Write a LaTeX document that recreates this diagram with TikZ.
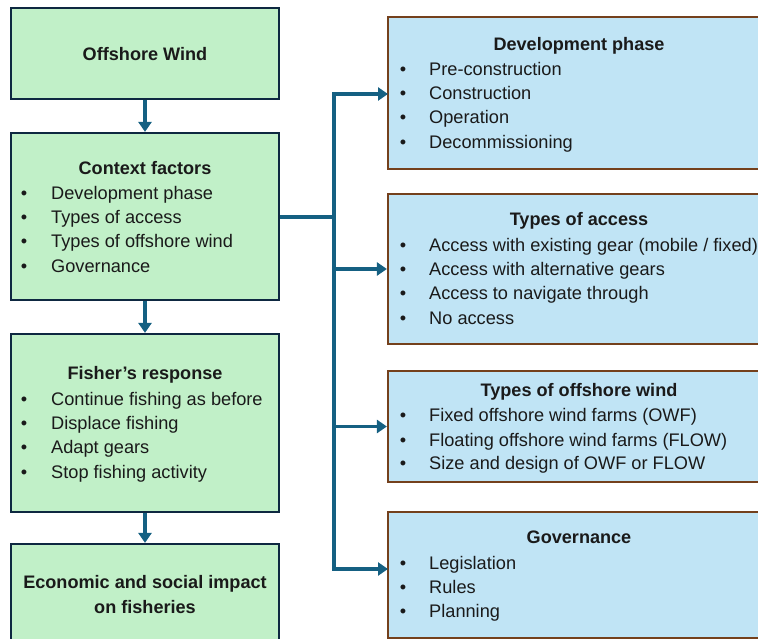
\documentclass[tikz,border=0pt]{standalone}
\usepackage{fontspec}
\setmainfont{Liberation Sans}
\usetikzlibrary{arrows.meta}
\definecolor{gfill}{HTML}{C1F0C8}
\definecolor{gdraw}{HTML}{0E2841}
\definecolor{bfill}{HTML}{C0E4F5}
\definecolor{bdraw}{HTML}{74401C}
\definecolor{conncol}{HTML}{156082}
\definecolor{txt}{HTML}{1A1A1A}
\tikzset{
  gbox/.style={draw=gdraw, fill=gfill, line width=2.2pt, minimum width=268pt, inner sep=0pt, anchor=center},
  bbox/.style={draw=bdraw, fill=bfill, line width=2.2pt, minimum width=382pt, inner sep=0pt, anchor=center},
  ttl/.style={font=\fontsize{18.1}{21}\selectfont\bfseries, text=txt, inner sep=0pt, anchor=base, yshift=-6.4pt},
  itm/.style={font=\fontsize{18.2}{21}\selectfont, text=txt, inner sep=0pt, anchor=base west, yshift=-6.4pt},
  bul/.style={font=\fontsize{18.2}{21}\selectfont, text=txt, inner sep=0pt, anchor=base, yshift=-6.4pt},
  conn/.style={draw=conncol, line width=3.2pt},
  arr/.style={conn, -{Triangle[width=13pt,length=10pt]}}
}
\begin{document}
\begin{tikzpicture}[x=1pt,y=-1pt]
\useasboundingbox (0,0) rectangle (758,639);
\clip (0,0) rectangle (758,639);
% left boxes
\node[gbox, minimum height=91pt] (ow) at (145,53.5) {};
\node[gbox, minimum height=167pt] (cf) at (145,216.5) {};
\node[gbox, minimum height=178pt] (fr) at (145,423) {};
\node[gbox, minimum height=102pt] (ec) at (145,595) {};
% right boxes
\node[bbox, minimum height=152pt] (dp) at (579,93) {};
\node[bbox, minimum height=150pt] (ta) at (579,269) {};
\node[bbox, minimum height=111pt] (tw) at (579,426.5) {};
\node[bbox, minimum height=126pt] (gv) at (579,575) {};
% texts left
\node[ttl] (owt) at (145,54) {Offshore Wind};
\node[ttl] (cft) at (145,168) {Context factors};
\foreach \y/\t [count=\i] in {193/{Development phase},217/{Types of access},241/{Types of offshore wind},266/{Governance}}{
  \node[bul] (cfb\i) at (24,\y) {•};
  \node[itm] (cfi\i) at (51,\y) {\t};
}
\node[ttl] (frt) at (145,373) {Fisher’s response};
\foreach \y/\t [count=\i] in {399/{Continue fishing as before},423/{Displace fishing},447/{Adapt gears},472/{Stop fishing activity}}{
  \node[bul] (frb\i) at (24,\y) {•};
  \node[itm] (fri\i) at (51,\y) {\t};
}
\node[ttl] (ect1) at (145,582) {Economic and social impact};
\node[ttl] (ect2) at (145,607) {on fisheries};
% texts right
\node[ttl] (dpt) at (579,44) {Development phase};
\foreach \y/\t [count=\i] in {69/{Pre-construction},93/{Construction},117/{Operation},142/{Decommissioning}}{
  \node[bul] (dpb\i) at (403,\y) {•};
  \node[itm] (dpi\i) at (429,\y) {\t};
}
\node[ttl] (tat) at (579,219) {Types of access};
\foreach \y/\t [count=\i] in {245/{Access with existing gear (mobile / fixed)},269/{Access with alternative gears},293/{Access to navigate through},318/{No access}}{
  \node[bul] (tab\i) at (403,\y) {•};
  \node[itm] (tai\i) at (429,\y) {\t};
}
\node[ttl] (twt) at (579,390) {Types of offshore wind};
\foreach \y/\t [count=\i] in {415/{Fixed offshore wind farms (OWF)},440/{Floating offshore wind farms (FLOW)},463/{Size and design of OWF or FLOW}}{
  \node[bul] (twb\i) at (403,\y) {•};
  \node[itm] (twi\i) at (429,\y) {\t};
}
\node[ttl] (gvt) at (579,537) {Governance};
\foreach \y/\t [count=\i] in {563/{Legislation},587/{Rules},611/{Planning}}{
  \node[bul] (gvb\i) at (403,\y) {•};
  \node[itm] (gvi\i) at (429,\y) {\t};
}
% connectors
\draw[arr] (ow.south) -- (cf.north);
\draw[arr] (cf.south) -- (fr.north);
\draw[arr] (fr.south) -- (ec.north);
\coordinate (trunk) at (334,217);
\coordinate (dpin) at (388,94);
\coordinate (gvin) at (388,569);
\draw[conn] (cf.east |- trunk) -- (trunk);
\draw[arr] (trunk) |- (dpin);
\draw[arr] (trunk) |- (ta.west);
\draw[arr] (trunk) |- (tw.west);
\draw[arr] (trunk) |- (gvin);
\end{tikzpicture}
\end{document}
